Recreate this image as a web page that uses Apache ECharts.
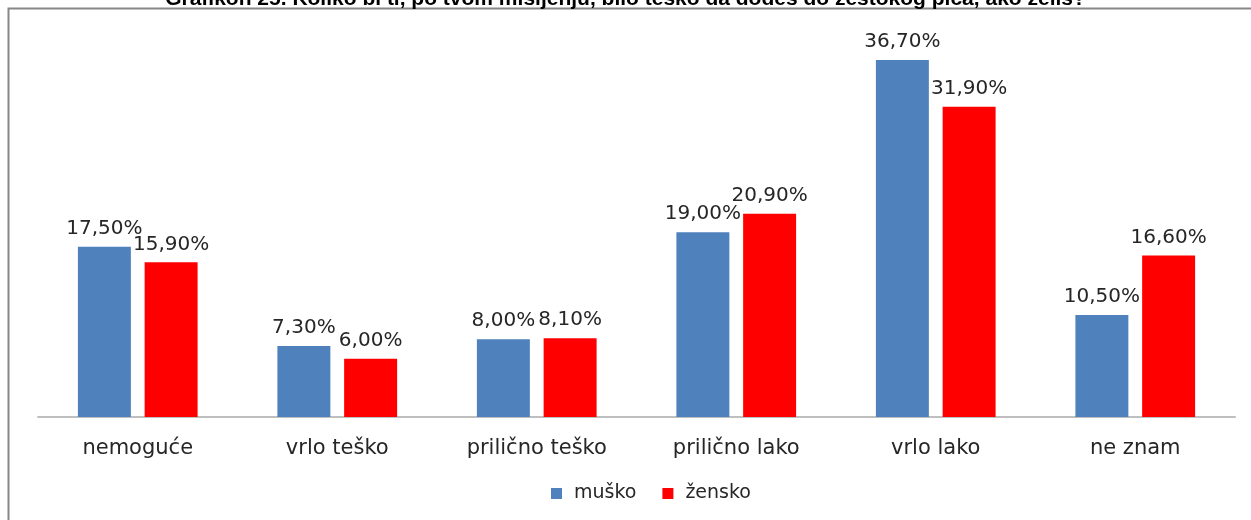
<!DOCTYPE html>
<html>
<head>
<meta charset="utf-8">
<script src="https://cdn.jsdelivr.net/npm/echarts@6/dist/echarts.min.js"></script>
<style>
html,body{margin:0;padding:0;background:#fff;}
#c{width:1251px;height:520px;}
</style>
</head>
<body>
<div id="c"></div>
<script>
const titleText = 'Grafikon 25. Koliko bi ti, po tvom mišljenju, bilo teško da dođeš do žestokog pića, ako želiš?';
const categories = ['nemoguće', 'vrlo teško', 'prilično teško', 'prilično lako', 'vrlo lako', 'ne znam'];
const seriesNames = ['muško', 'žensko'];
const musko = [17.5, 7.3, 8.0, 19.0, 36.7, 10.5];
const zensko = [15.9, 6.0, 8.1, 20.9, 31.9, 16.6];

const chart = echarts.init(document.getElementById('c'), null, {renderer: 'canvas'});
const fmt = p => p.value.toFixed(2).replace('.', ',') + '%';
const labelStyle = {
  show: true, position: 'top', distance: 8, formatter: fmt,
  fontFamily: 'DejaVu Sans', fontSize: 20, color: '#262626'
};
chart.setOption({
  animation: false,
  backgroundColor: '#ffffff',
  title: {
    text: titleText, left: 'center', top: -16,
    textStyle: {fontFamily: 'Liberation Sans', fontWeight: 'bold', fontSize: 21, color: '#000'}
  },
  graphic: [{
    type: 'rect', left: 6, top: 6, silent: true, z: -1,
    shape: {x: 0, y: 0, width: 1260, height: 530},
    style: {fill: 'none', stroke: '#878787', lineWidth: 2}
  }],
  legend: {
    data: seriesNames, bottom: 12, left: 546,
    itemWidth: 11, itemHeight: 11, itemGap: 26, icon: 'rect',
    textStyle: {fontFamily: 'DejaVu Sans', fontSize: 19, color: '#262626', padding: [0, 0, 0, 7]}
  },
  grid: {left: 38, right: 16, top: 28, bottom: 103, containLabel: false},
  xAxis: {
    type: 'category', data: categories,
    axisLine: {lineStyle: {color: '#bfbfbf', width: 2}},
    axisTick: {show: false},
    axisLabel: {margin: 21, fontFamily: 'DejaVu Sans', fontSize: 21, color: '#262626'}
  },
  yAxis: {
    type: 'value', min: 0, max: 40, interval: 10,
    show: false, splitLine: {show: false}
  },
  series: [
    {name: seriesNames[0], type: 'bar', data: musko, barGap: '26%', barCategoryGap: '40%',
     itemStyle: {color: '#4f81bd'}, label: labelStyle},
    {name: seriesNames[1], type: 'bar', data: zensko,
     itemStyle: {color: '#ff0000'}, label: labelStyle}
  ]
});
</script>
</body>
</html>
